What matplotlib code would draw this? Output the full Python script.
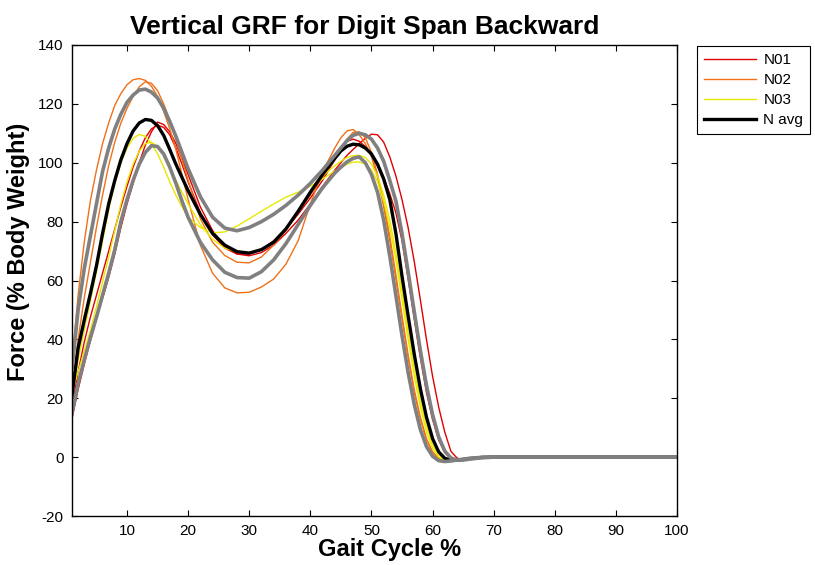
import matplotlib
matplotlib.use('Agg')
import matplotlib.pyplot as plt

plt.rcParams['font.family'] = ['Liberation Sans', 'DejaVu Sans']
plt.rcParams['axes.unicode_minus'] = False

# gait cycle sample positions (%)
gait_pct = [1, 2, 3, 4, 5, 6, 7, 8, 9, 10, 11, 12, 13, 14, 15, 16, 17, 18, 19, 20,
            22, 24, 26, 28, 30, 32, 34, 36, 38, 40, 42, 44,
            45, 46, 47, 48, 49, 50, 51, 52, 53, 54, 55, 56, 57, 58, 59, 60, 61, 62, 63, 64, 65, 66,
            68, 70, 80, 90, 100]

# subject N01, two trials
n01_a = [13, 23, 31.5, 39.5, 47, 54, 61, 69, 78, 86, 93, 100, 106, 110.5, 113.8, 113, 110.5, 106.5, 101.5, 96,
         85, 77, 71.5, 69, 68.4, 69.5, 72, 76, 80.5, 86, 92, 97.5,
         100, 102.5, 104.5, 106.5, 108.3, 109.7, 109.5, 107, 102, 95.5, 87.5, 78, 66.5, 53.5, 40, 27.5, 17, 8.5, 2, -0.3, -1, -0.8,
         -0.2, 0, 0, 0, 0]
n01_b = [17, 29, 39, 47.5, 55, 62.5, 70, 77.5, 85, 92, 98.5, 104, 108.5, 111.5, 112.8, 112, 109.5, 105, 99.5, 93.5,
         83, 75.5, 71, 69, 69, 70.5, 73.5, 77.5, 82.5, 88, 94, 101,
         104.5, 107.3, 108, 107.3, 105.5, 102.5, 99, 95, 89.5, 83, 73.5, 60.5, 47, 33.8, 22, 12.8, 5.8, 1.5, -0.5, -1, -1, -0.7,
         -0.2, 0, 0, 0, 0]

# subject N02, two trials
n02_a = [32, 55, 73, 87, 97.5, 106.5, 113.5, 119.5, 123.5, 126.5, 128.2, 128.6, 128, 126, 122.5, 117.5, 111.5, 104.5, 96, 87.5,
         72, 62.5, 57.5, 55.8, 56, 57.8, 60.5, 65.5, 73.5, 86, 97, 105,
         108.5, 110.8, 111.3, 109.5, 106.5, 102, 95, 85, 73.5, 60.5, 46.8, 33.8, 22, 12.8, 5.8, 1.5, -0.5, -1.2, -1.2, -1, -0.7, -0.4,
         0, 0, 0, 0, 0]
n02_b = [24, 40, 54, 66, 78, 89, 99, 107, 113.5, 118.5, 122.5, 125.8, 127.5, 127, 124.5, 120, 114.5, 108, 101, 94,
         81, 73, 68.5, 66.2, 66, 68, 72, 77, 83, 89, 95, 101,
         104.5, 108, 110.3, 110.5, 108.5, 103.5, 96, 86.5, 75, 62, 48.1, 34.8, 23, 13.6, 6.3, 1.8, -0.4, -1.2, -1.2, -1, -0.7, -0.4,
         0, 0, 0, 0, 0]

# subject N03, two trials
n03_a = [21, 33, 43, 53, 63, 73.5, 84, 93, 100, 105, 108.3, 109.6, 109, 106.5, 103, 98.5, 93.5, 89, 85, 81.5,
         78, 76.2, 76.5, 78.5, 81, 83.5, 86, 88.3, 90, 92, 94.5, 97.2,
         98.5, 99.5, 100.2, 100.3, 99.5, 97.5, 93.5, 87, 78, 67, 53.5, 40, 27.5, 17, 8.5, 3, 0, -1, -1, -0.8, -0.6, -0.3,
         0, 0, 0, 0, 0]
n03_b = [22, 29, 36, 43, 51, 59.5, 68, 77, 86, 93.5, 99.5, 104, 106.5, 107, 105.5, 102.5, 98.5, 94, 90, 86,
         79, 74, 71, 69.8, 69.5, 70.5, 73, 77.5, 83.5, 90, 95.5, 99,
         100.5, 101.8, 102.4, 102.5, 101.8, 99.5, 95.5, 89, 80.5, 69.6, 56.2, 42.5, 30, 19, 10.3, 4, 0.8, -0.8, -1.1, -1, -0.7, -0.4,
         0, 0, 0, 0, 0]

# group average and +/- one standard deviation
n_avg = [21, 37, 46.5, 55.5, 65, 76, 86, 94, 101, 106.5, 110.8, 113.5, 114.7, 114.4, 112.6, 109.3, 104.5, 99.5, 95, 90.5,
         82.5, 76, 72, 69.8, 69.3, 70.5, 73, 77.5, 83.5, 90, 96, 101.5,
         104, 105.6, 106.3, 106.1, 105, 103, 99.5, 94.5, 87.5, 76, 61.5, 48, 35, 23.3, 13.6, 6.3, 1.8, -0.4, -1, -1, -0.8, -0.5,
         -0.1, 0, 0, 0, 0]
n_upper = [30, 50, 64, 75, 86, 97, 105, 111.5, 116.5, 120.5, 123, 124.7, 125, 124, 122, 118.5, 114, 109, 103.5, 98,
           88.5, 81.5, 77.8, 76.9, 78, 80, 82.5, 85.5, 89, 93, 97.5, 102.5,
           105, 107.5, 109.3, 110, 109.5, 108, 105, 100.5, 94, 87, 76, 63, 49.5, 36.3, 24.4, 14.5, 6.9, 2.1, -0.3, -1, -1, -0.7,
           -0.2, 0, 0, 0, 0]
n_lower = [15, 25, 33, 40.5, 47.5, 55, 62.5, 70.5, 80, 87.5, 94, 99.5, 103.5, 105.8, 105.5, 103, 98.5, 93, 87, 81.5,
           73, 67, 62.8, 61, 60.8, 63, 67, 72.5, 79, 85.5, 91.5, 96.5,
           98.5, 100.3, 101.5, 102, 100, 96, 90, 80.5, 68.3, 54.9, 41.3, 28.8, 18, 9.4, 3.6, 0.3, -1.2, -1.5, -1.3, -1, -0.7, -0.4,
           -0.1, 0, 0, 0, 0]

x_ticks = [10, 20, 30, 40, 50, 60, 70, 80, 90, 100]
y_ticks = [-20, 0, 20, 40, 60, 80, 100, 120, 140]

RED = '#e00000'
ORANGE = '#f07018'
YELLOW = '#e8e800'
GRAY = '#808080'

fig = plt.figure(figsize=(8.15, 5.65), dpi=100)
ax = fig.add_axes([72 / 815, 49 / 565, 605 / 815, 471 / 565])

thin = 1.0
h1, = ax.plot(gait_pct, n01_a, color=RED, lw=thin, label='N01')
ax.plot(gait_pct, n01_b, color=RED, lw=thin)
h2, = ax.plot(gait_pct, n02_a, color=ORANGE, lw=thin, label='N02')
ax.plot(gait_pct, n02_b, color=ORANGE, lw=thin)
h3, = ax.plot(gait_pct, n03_a, color=YELLOW, lw=thin, label='N03')
ax.plot(gait_pct, n03_b, color=YELLOW, lw=thin)
h4, = ax.plot(gait_pct, n_avg, color='black', lw=2.4, label='N avg')
ax.plot(gait_pct, n_upper, color=GRAY, lw=2.6)
ax.plot(gait_pct, n_lower, color=GRAY, lw=2.6)

ax.set_xlim(1, 100)
ax.set_ylim(-20, 140)
ax.set_xticks(x_ticks)
ax.set_yticks(y_ticks)
ax.tick_params(direction='in', length=4, width=0.8, top=True, right=True, labelsize=11, pad=6)
for s in ax.spines.values():
    s.set_linewidth(1.0)

ax.set_title('Vertical GRF for Digit Span Backward', fontsize=19, fontweight='bold', pad=8)
ax.title.set_x((365 - 72) / 605)
ax.set_xlabel('Gait Cycle %', fontsize=17, fontweight='bold', labelpad=0, ha='left')
ax.xaxis.label.set_x((318 - 72) / 605)
ax.set_ylabel('Force (% Body Weight)', fontsize=17, fontweight='bold', labelpad=6)
ax.yaxis.label.set_y((516 - 252) / 471)

leg = ax.legend(handles=[h1, h2, h3, h4], loc='upper left',
                bbox_to_anchor=(697 / 815, 1 - 46 / 565), bbox_transform=fig.transFigure,
                fancybox=False, edgecolor='black', framealpha=1, fontsize=11,
                handlelength=3.4, handletextpad=0.5, borderpad=0.45, labelspacing=0.4,
                borderaxespad=0)
leg.get_frame().set_linewidth(0.8)

plt.savefig('out.png', dpi=100)
